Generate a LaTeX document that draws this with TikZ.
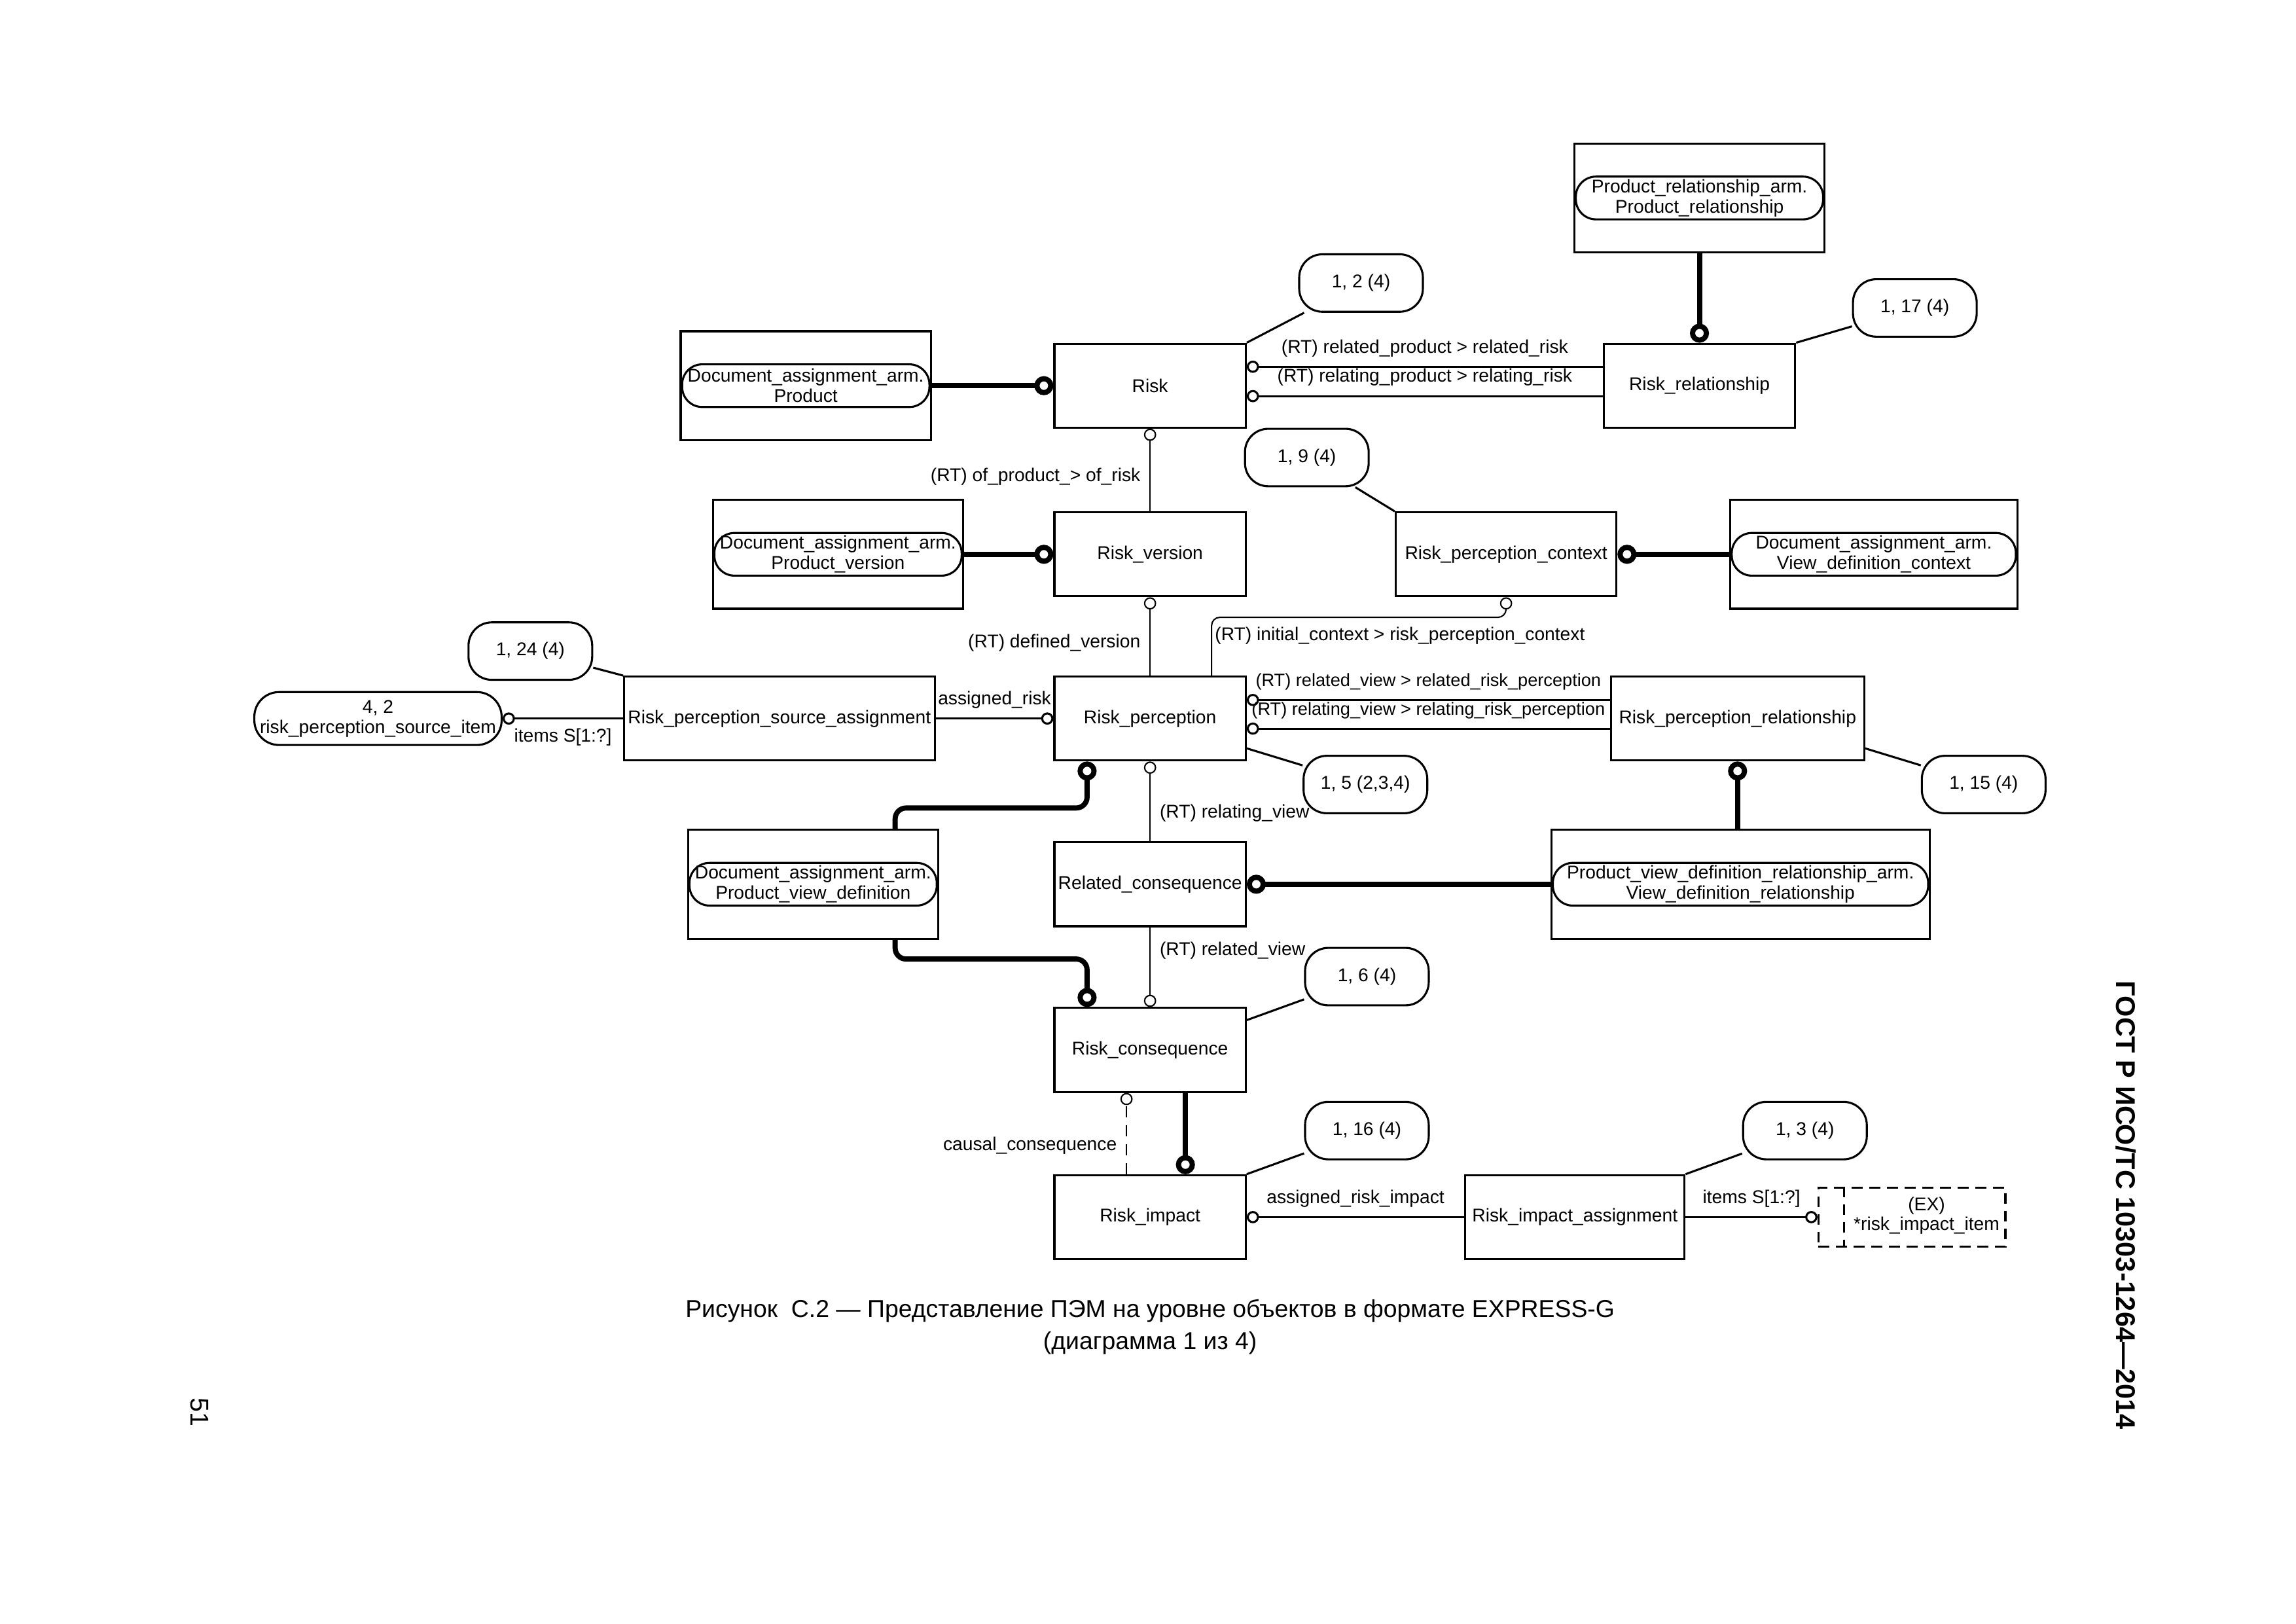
\documentclass[tikz,border=0pt]{standalone}
\usepackage{fontspec}
\setmainfont{Liberation Sans}
\usetikzlibrary{arrows.meta,backgrounds}
\tikzstyle{entity} = [rectangle, minimum width=2.475cm, minimum height=1.085cm, inner sep=1pt, text centered, draw=black, line width=0.75pt]
\tikzstyle{refbox} = [rectangle, minimum width=3.237cm, minimum height=1.409cm, draw=black, line width=0.75pt]
\tikzstyle{pill} = [rectangle, rounded corners=0.26cm, minimum width=3.199cm, minimum height=0.552cm, inner sep=1pt, align=center, draw=black, line width=0.75pt]
\tikzstyle{pageref} = [rectangle, rounded corners=0.3cm, minimum width=1.6cm, minimum height=0.743cm, text centered, draw=black, line width=0.75pt, fill=white]
\tikzstyle{rel} = [line width=0.75pt, ->, >={Circle[open, length=4.5pt, width=4.5pt]}]
\tikzstyle{rtline} = [line width=0.5pt, ->, >={Circle[open, length=4.5pt, width=4.5pt]}]
\tikzstyle{super} = [line width=1.9pt, ->, >={Circle[open, length=7pt, width=7pt]}]
\tikzstyle{refline} = [line width=0.75pt]
\tikzstyle{dash4} = [dash pattern=on 4pt off 2.5pt]
\tikzstyle{narrow} = [font=\fontsize{6.55}{7.4}\selectfont]

\begin{document}
\begin{tikzpicture}[x=0.01895cm, y=-0.01897cm, font=\fontsize{6.8}{7.4}\selectfont]
\useasboundingbox (0,0) rectangle (29.7cm,-21cm);

% entities
\node (risk) [entity] at (785,263) {Risk};
\node (rr) [entity] at (1160,263) {Risk\_relationship};
\node (rv) [entity] at (785,378) {Risk\_version};
\node (rpc) [entity, minimum width=2.856cm] at (1028,378) {Risk\_perception\_context};
\node (rpsa) [entity, minimum width=4.017cm] at (532,490) {Risk\_perception\_source\_assignment};
\node (rp) [entity] at (785,490) {Risk\_perception};
\node (rpr) [entity, minimum width=3.275cm] at (1186,490) {Risk\_perception\_relationship};
\node (rc) [entity] at (785,603) {Related\_consequence};
\node (rcons) [entity] at (785,716) {Risk\_consequence};
\node (ri) [entity] at (785,830) {Risk\_impact};
\node (ria) [entity, minimum width=2.837cm] at (1075,830) {Risk\_impact\_assignment};

% referenced entities
\node (pra) [refbox] at (1160,135) {};
\node (prain) [pill] at (pra) {Product\_relationship\_arm.\\Product\_relationship};
\node (dap) [refbox] at (550,263) {};
\node (dapin) [pill] at (dap) {Document\_assignment\_arm.\\Product};
\node (dapv) [refbox] at (572,378) {};
\node (dapvin) [pill] at (dapv) {Document\_assignment\_arm.\\Product\_version};
\node (davdc) [refbox, minimum width=3.713cm] at (1279,378) {};
\node (davdcin) [pill, minimum width=3.675cm] at (davdc) {Document\_assignment\_arm.\\View\_definition\_context};
\node (dapvd) [refbox] at (555,603) {};
\node (dapvdin) [pill] at (dapvd) {Document\_assignment\_arm.\\Product\_view\_definition};
\node (pvdr) [refbox, minimum width=4.893cm] at (1188,603) {};
\node (pvdrin) [pill, minimum width=4.855cm] at (pvdr) {Product\_view\_definition\_relationship\_arm.\\View\_definition\_relationship};
\node (psi) [pill, minimum height=0.685cm, rounded corners=0.32cm] at (258,490) {4, 2\\risk\_perception\_source\_item};
\node (exi) [rectangle, draw=black, line width=0.75pt, dash4, minimum width=2.418cm, minimum height=0.762cm] at (1305,830) {};
\node (extxt) [align=center] at (1315,829) {(EX)\\*risk\_impact\_item};
\draw [line width=0.75pt, dash4] ([xshift=0.343cm]exi.north west) -- ([xshift=0.343cm]exi.south west);

% page references
\node (p12) [pageref] at (929,193) {1, 2 (4)};
\node (p117) [pageref] at (1307,210) {1, 17 (4)};
\node (p19) [pageref] at (892,312) {1, 9 (4)};
\node (p124) [pageref] at (362,444) {1, 24 (4)};
\node (p15) [pageref] at (932,535) {1, 5 (2,3,4)};
\node (p115) [pageref] at (1354,535) {1, 15 (4)};
\node (p16) [pageref] at (933,666) {1, 6 (4)};
\node (p116) [pageref] at (933,771) {1, 16 (4)};
\node (p13) [pageref] at (1232,771) {1, 3 (4)};

\begin{scope}[on background layer]
\draw [refline] (risk.north east) -- (p12);
\draw [refline] (rr.north east) -- (p117);
\draw [refline] (rpc.north west) -- (p19);
\draw [refline] (rpsa.north west) -- (p124);
\draw [refline] ([yshift=0.17cm]rp.south east) -- (p15);
\draw [refline] ([yshift=0.17cm]rpr.south east) -- (p115);
\draw [refline] ([yshift=-0.17cm]rcons.north east) -- (p16);
\draw [refline] (ri.north east) -- (p116);
\draw [refline] (ria.north east) -- (p13);
\end{scope}

% supertype links
\draw [super] (pra.south) -- (rr.north);
\draw [super] (dap.east) -- (risk.west);
\draw [super] (dapv.east) -- (rv.west);
\draw [super] (davdc.west) -- (rpc.east);
\draw [super] (pvdr.west) -- (rc.east);
\draw [super] (rpr.south |- pvdr.north) -- (rpr.south);
\coordinate (k1) at (611,551);
\coordinate (k2) at (742,551);
\coordinate (k3) at (611,654);
\coordinate (k4) at (742,654);
\draw [super, rounded corners=4pt] (k1 |- dapvd.north) -- (k1) -- (k2) -- (k2 |- rp.south);
\draw [super, rounded corners=4pt] (k3 |- dapvd.south) -- (k3) -- (k4) -- (k4 |- rcons.north);
\draw [super] ([xshift=0.457cm]rcons.south) -- ([xshift=0.457cm]ri.north);

% attributes
\draw [rel] ([yshift=0.245cm]rr.west) -- node[above]{(RT) related\_product > related\_risk} ([yshift=0.245cm]risk.east);
\draw [rel] ([yshift=-0.135cm]rr.west) -- node[above]{(RT) relating\_product > relating\_risk} ([yshift=-0.135cm]risk.east);
\draw [rtline] (rv.north) -- node[left, pos=0.42]{(RT) of\_product\_> of\_risk} (risk.south);
\draw [rtline] (rp.north) -- node[left, pos=0.42]{(RT) defined\_version} (rv.south);
\coordinate (ic1) at (827,421);
\draw [rtline, rounded corners=3pt] (ic1 |- rp.north) -- (ic1) node[anchor=north west, inner xsep=1pt]{(RT) initial\_context > risk\_perception\_context} -| (rpc.south);
\draw [rel] (rpsa.east) -- node[above]{assigned\_risk} (rp.west);
\draw [rel] (rpsa.west) -- node[below]{items S[1:?]} (psi.east);
\draw [rel] ([yshift=0.24cm]rpr.west) -- node[above, narrow]{(RT) related\_view > related\_risk\_perception} ([yshift=0.24cm]rp.east);
\draw [rel] ([yshift=-0.13cm]rpr.west) -- node[above, narrow]{(RT) relating\_view > relating\_risk\_perception} ([yshift=-0.13cm]rp.east);
\draw [rtline] (rc.north) -- node[right, pos=0.35]{(RT) relating\_view} (rp.south);
\draw [rtline] (rc.south) -- node[right, pos=0.29]{(RT) related\_view} (rcons.north);
\draw [rtline, dash pattern=on 4pt off 3pt] ([xshift=-0.305cm]ri.north) -- node[left, pos=0.35]{causal\_consequence} ([xshift=-0.305cm]rcons.south);
\draw [rel] (ria.west) -- node[above]{assigned\_risk\_impact} (ri.east);
\draw [rel] (ria.east) -- node[above]{items S[1:?]} (ria.east -| exi.west);

% page texts
\node (cap) [align=center, font=\fontsize{9}{11.9}\selectfont] at (785,905) {Рисунок~~С.2 — Представление ПЭМ на уровне объектов в формате EXPRESS-G\\(диаграмма 1 из 4)};
\node (gost) [rotate=-90, font=\fontsize{10}{12}\selectfont\bfseries] at (1451,822) {ГОСТ Р ИСО/ТС 10303-1264—2014};
\node (pnum) [rotate=-90, font=\fontsize{9.5}{11}\selectfont] at (136,963) {51};

\end{tikzpicture}
\end{document}
